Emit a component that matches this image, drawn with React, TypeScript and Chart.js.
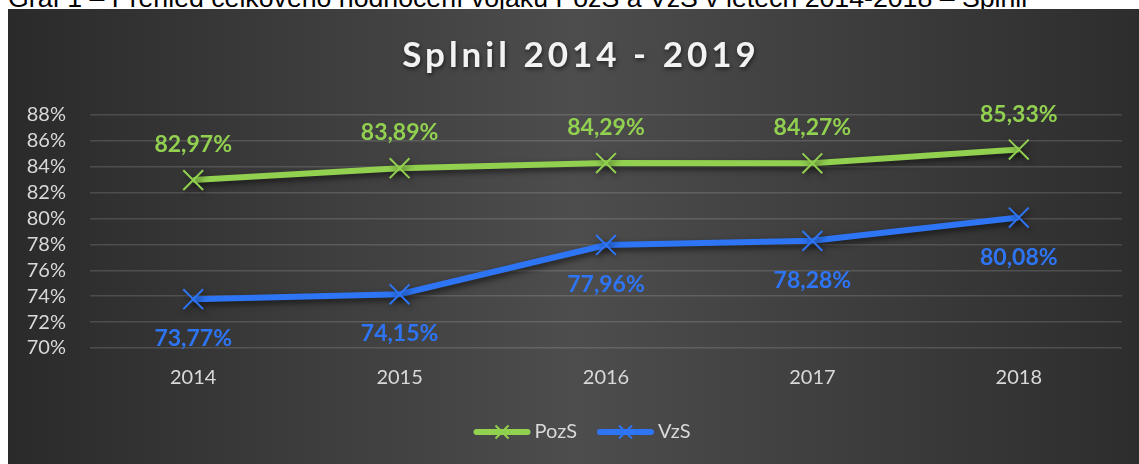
import React, { useEffect, useRef } from "react";
import { Chart, registerables } from "chart.js";

Chart.register(...registerables);

const categories = ["2014", "2015", "2016", "2017", "2018"];
const pozS = [82.97, 83.89, 84.29, 84.27, 85.33];
const vzS = [73.77, 74.15, 77.96, 78.28, 80.08];
const seriesNames = ["PozS", "VzS"];
const seriesColors = ["#92D050", "#2E75F6"];
const yMin = 70;
const yMax = 88;
const yStep = 2;
const titleText = "Splnil 2014 - 2019";
const captionText =
  "Graf 1 – Přehled celkového hodnocení vojáků PozS a VzS v letech 2014-2018 – Splnil";

const fmtPct = (v: number) => v.toFixed(2).replace(".", ",") + "%";

const shadowPlugin = {
  id: "lineShadow",
  beforeDatasetsDraw(chart: any) {
    const c = chart.ctx;
    c.save();
    c.shadowColor = "rgba(0,0,0,0.6)";
    c.shadowBlur = 6;
    c.shadowOffsetX = 2;
    c.shadowOffsetY = 3;
  },
  afterDatasetsDraw(chart: any) {
    chart.ctx.restore();
  },
};

const labelsPlugin = {
  id: "valueLabels",
  afterDraw(chart: any) {
    const c = chart.ctx;
    c.save();
    c.font = "bold 23px Lato";
    c.textAlign = "center";
    c.textBaseline = "alphabetic";
    chart.data.datasets.forEach((ds: any, di: number) => {
      const meta = chart.getDatasetMeta(di);
      meta.data.forEach((pt: any, i: number) => {
        const v = ds.data[i];
        c.fillStyle = ds.borderColor;
        const y = di === 0 ? pt.y - 28 : pt.y + 47;
        c.fillText(fmtPct(v), pt.x, y);
      });
    });
    c.restore();
  },
};

const titlePlugin = {
  id: "fancyTitle",
  afterDraw(chart: any) {
    const c = chart.ctx;
    c.save();
    c.font = "bold 35px Lato";
    (c as any).letterSpacing = "4px";
    c.textAlign = "center";
    c.textBaseline = "alphabetic";
    c.shadowColor = "rgba(0,0,0,0.55)";
    c.shadowBlur = 4;
    c.shadowOffsetX = 1;
    c.shadowOffsetY = 2;
    c.fillStyle = "#f2f2f2";
    c.fillText(titleText, 573, 58);
    c.restore();
  },
};

const legendPlugin = {
  id: "customLegend",
  afterDraw(chart: any) {
    const c = chart.ctx;
    c.save();
    c.font = "20px Lato";
    const lineLen = 57;
    const gapText = 4;
    const gapItem = 20;
    const widths = seriesNames.map((n) => c.measureText(n).width);
    const total =
      widths.reduce((a, w) => a + lineLen + gapText + w, 0) + gapItem * (seriesNames.length - 1);
    let x = 574 - total / 2;
    const y = 423;
    chart.data.datasets.forEach((ds: any, i: number) => {
      c.strokeStyle = ds.borderColor;
      c.lineCap = "round";
      c.lineWidth = 6;
      c.beginPath();
      c.moveTo(x + 3, y);
      c.lineTo(x + lineLen - 3, y);
      c.stroke();
      const cx = x + lineLen / 2;
      const r = 6.5;
      c.lineWidth = 2;
      c.lineCap = "butt";
      c.beginPath();
      c.moveTo(cx - r, y - r);
      c.lineTo(cx + r, y + r);
      c.moveTo(cx - r, y + r);
      c.lineTo(cx + r, y - r);
      c.stroke();
      c.fillStyle = "#d9d9d9";
      c.textAlign = "left";
      c.textBaseline = "middle";
      c.fillText(ds.label, x + lineLen + gapText, y);
      x += lineLen + gapText + widths[i] + gapItem;
    });
    c.restore();
  },
};

export default function App() {
  const ref = useRef<HTMLCanvasElement | null>(null);
  useEffect(() => {
    if (!ref.current) return;
    const datasets = [pozS, vzS].map((d, i) => ({
      label: seriesNames[i],
      data: d,
      borderColor: seriesColors[i],
      backgroundColor: seriesColors[i],
      borderWidth: 6,
      pointStyle: "crossRot" as const,
      pointRadius: 14,
      pointBorderWidth: 2,
      pointBorderColor: seriesColors[i],
      tension: 0,
    }));
    const chart = new Chart(ref.current, {
      type: "line",
      data: { labels: categories, datasets },
      options: {
        animation: false,
        responsive: false,
        layout: { padding: { top: 106, left: 0, right: 17, bottom: 57 } },
        plugins: {
          legend: { display: false },
          title: { display: false },
          tooltip: { enabled: false },
        },
        scales: {
          x: {
            offset: true,
            grid: { display: false, drawTicks: false },
            border: { display: false },
            ticks: { color: "#d9d9d9", font: { family: "Lato", size: 20 }, padding: 18 },
            afterFit: (s: any) => {
              s.height = 59;
            },
          },
          y: {
            min: yMin,
            max: yMax,
            grid: { color: "rgba(255,255,255,0.14)", lineWidth: 1.5, drawTicks: false },
            border: { display: false },
            ticks: {
              stepSize: yStep,
              autoSkip: false,
              color: "#d9d9d9",
              font: { family: "Lato", size: 20 },
              padding: 24,
              callback: (v: any) => v + "%",
            },
            afterFit: (s: any) => {
              s.width = 82;
            },
          },
        },
      },
      plugins: [shadowPlugin, labelsPlugin, titlePlugin, legendPlugin],
    });
    return () => chart.destroy();
  }, []);

  return (
    <div style={{ position: "absolute", left: 0, top: 0, width: 1139, height: 464, overflow: "hidden", background: "#fff" }}>
      <div
        style={{
          position: "absolute",
          left: 8,
          top: -15,
          fontFamily: "'Liberation Sans', Arial, sans-serif",
          fontSize: 26.7,
          lineHeight: 1,
          whiteSpace: "nowrap",
          color: "#000",
        }}
      >
        {captionText}
      </div>
      <div
        style={{
          position: "absolute",
          left: 8,
          top: 9,
          width: 1131,
          height: 455,
          background: "linear-gradient(to right, #2a2a2a 0%, #4d4d4d 50%, #2d2d2d 100%)",
        }}
      >
        <canvas ref={ref} width={1131} height={455} style={{ display: "block" }} />
      </div>
    </div>
  );
}
